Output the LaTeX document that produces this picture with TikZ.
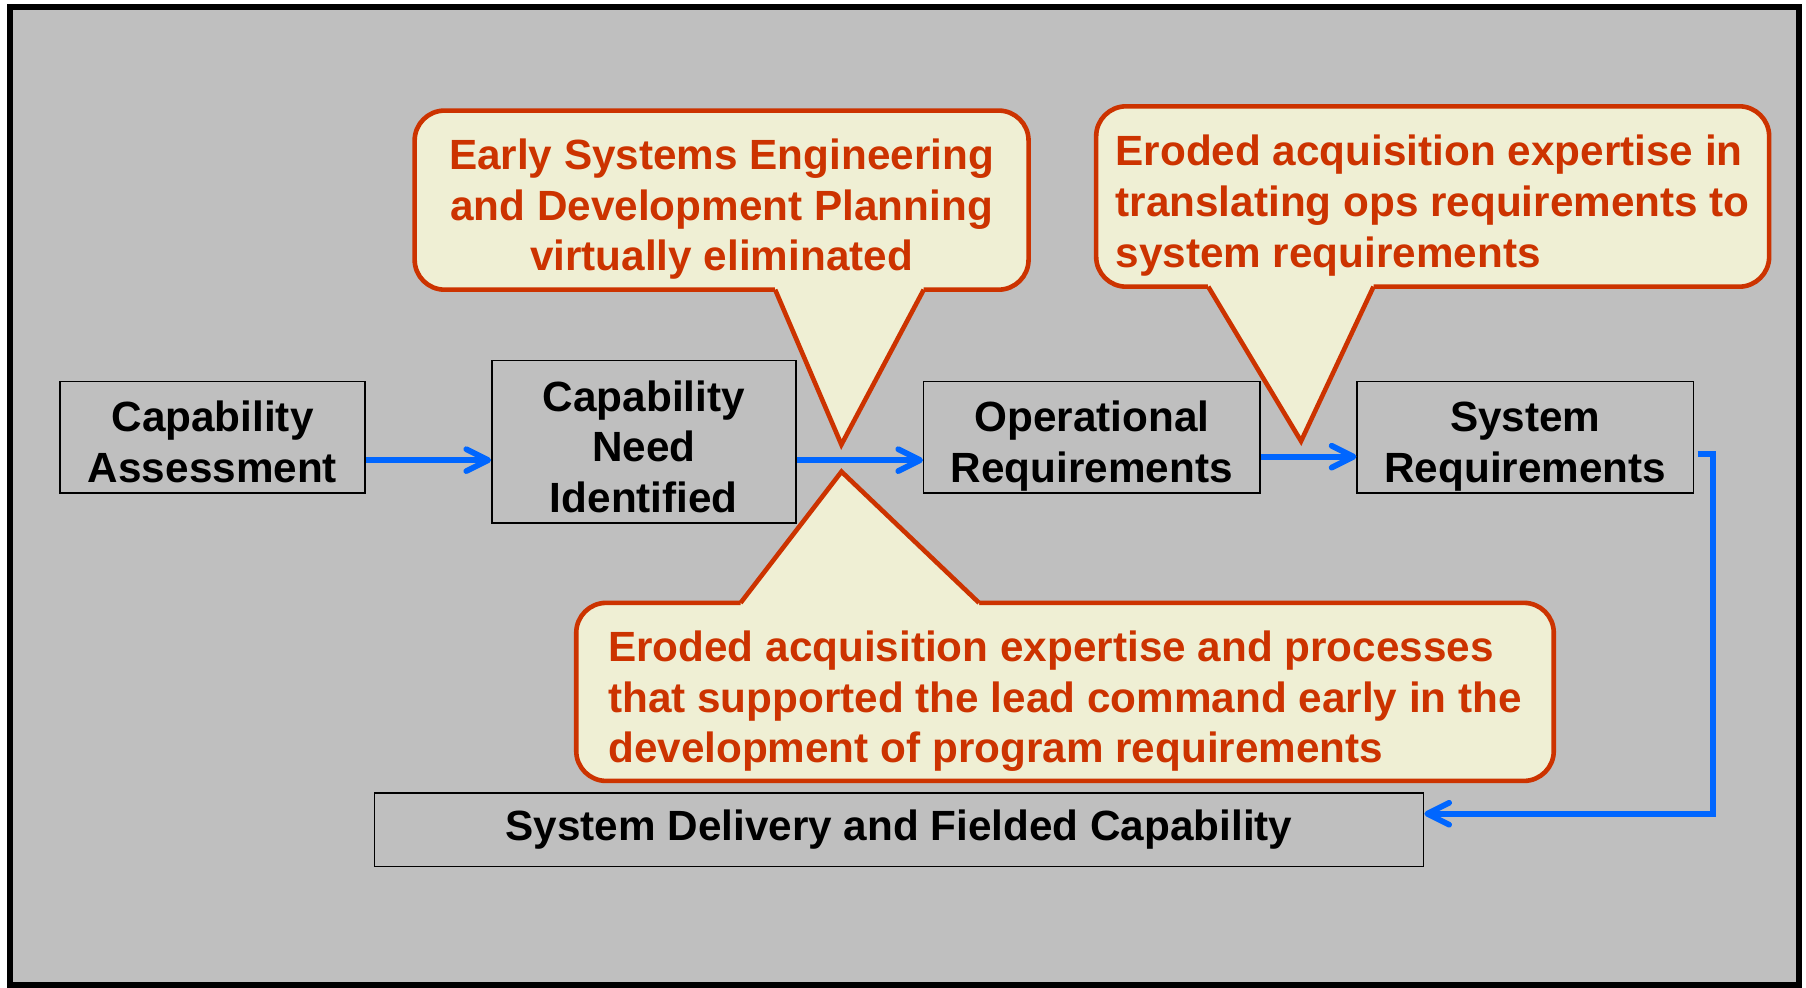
\documentclass[tikz,border=0pt]{standalone}
\usepackage{fontspec}
\setmainfont{Liberation Sans}
\usetikzlibrary{arrows.meta,positioning}
\definecolor{panel}{RGB}{191,191,191}
\definecolor{calloutred}{RGB}{204,51,0}
\definecolor{calloutfill}{RGB}{239,239,212}
\definecolor{flowblue}{RGB}{0,102,255}
\newcommand{\upstrut}{\rule{0pt}{44pt}}
\newcommand{\downstrut}{\rule[-9pt]{0pt}{9pt}}

\begin{document}
\begin{tikzpicture}[x=1pt,y=-1pt,
  box/.style={draw,line width=1.3pt,inner sep=0pt,align=center,
    font=\bfseries\fontsize{36.7}{44}\selectfont},
  callout/.style={draw=calloutred,line width=4pt,fill=calloutfill,
    rounded corners=26pt,inner sep=0pt,text=calloutred,
    font=\bfseries\fontsize{36.7}{44}\selectfont},
  pointer/.style={draw=calloutred,line width=4pt,line join=miter},
  flow/.style={draw=flowblue,line width=5pt,
    -{Straight Barb[length=19pt,width=19pt,round]}}]
  \useasboundingbox (0,0) rectangle (1568,857);
  % panel
  \draw[line width=4.8pt,fill=panel] (8.7,6.1) rectangle (1562,855);

  % process chain
  \node[box,minimum width=265pt,minimum height=97pt]  (assess) at (184.5,379.5) {\upstrut Capability\\Assessment\downstrut};
  \node[box,minimum width=264pt,minimum height=139pt] (need)   at (559,383.5)   {\upstrut Capability\\Need\\Identified\downstrut};
  \node[box,minimum width=292pt,minimum height=97pt]  (opsreq) at (948,379.5)   {\upstrut Operational\\Requirements\downstrut};
  \node[box,minimum width=292pt,minimum height=97pt]  (sysreq) [right=83pt of opsreq] {\upstrut System\\Requirements\downstrut};
  \node[box,minimum width=911pt,minimum height=64pt]  (deliv)  at (780.5,720.5) {System Delivery and Fielded Capability};

  \draw[flow] ([yshift=-20pt]assess.east) -- ([yshift=-16pt]need.west);
  \draw[flow] ([yshift=-16pt]need.east) -- ([yshift=-20pt]opsreq.west);
  \draw[flow] ([yshift=-17pt]opsreq.east) -- ([yshift=-17pt]sysreq.west);
  \draw[flow] ([xshift=3pt,yshift=-14.5pt]sysreq.east) -- ++(13,0) |- ([yshift=14pt]deliv.east);

  % callouts
  \node[callout,align=center,minimum width=533pt,minimum height=155.5pt] (early) at (626.5,173.75)
    {\upstrut Early Systems Engineering\\and Development Planning\\virtually eliminated\downstrut};
  \coordinate (earlytip) at (730.5,386);
  \fill[calloutfill] (673,244) -- (673,251.5) -- (earlytip) -- (802,251.5) -- (802,244) -- cycle;
  \draw[pointer] (673,251.5) -- (earlytip) -- (802,251.5);

  \node[callout,align=left,minimum width=584.3pt,minimum height=156.6pt] (translate) at (1243.85,170.6)
    {\upstrut Eroded acquisition expertise in\\translating ops requirements to\\system requirements\downstrut};
  \coordinate (translatetip) at (1129.6,383);
  \fill[calloutfill] (1049,243) -- (1049,248.9) -- (translatetip) -- (1192.5,248.9) -- (1192.5,243) -- cycle;
  \draw[pointer] (1049,248.9) -- (translatetip) -- (1192.5,248.9);

  \node[callout,align=left,minimum width=848.7pt,minimum height=154.6pt] (erosion) at (924.65,600.7)
    {\upstrut Eroded acquisition expertise and processes\\that supported the lead command early in the\\development of program requirements\downstrut};
  \coordinate (erosiontip) at (730.6,409.5);
  \fill[calloutfill] (643,530) -- (643,523.4) -- (erosiontip) -- (850,523.4) -- (850,530) -- cycle;
  \draw[pointer] (643,523.4) -- (erosiontip) -- (850,523.4);
\end{tikzpicture}
\end{document}
